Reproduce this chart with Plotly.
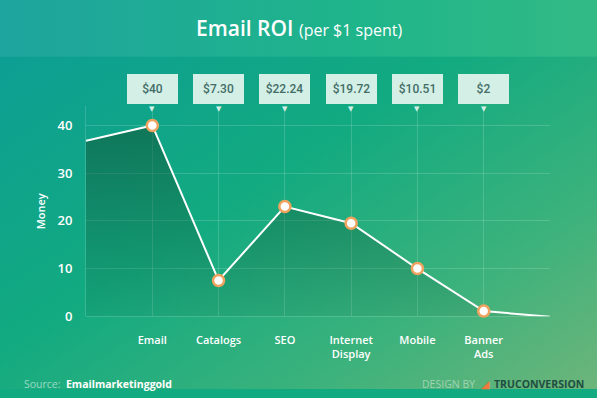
import base64
import plotly.graph_objects as go

# ---- data ----
categories = ["Email", "Catalogs", "SEO", "Internet<br>Display", "Mobile", "Banner<br>Ads"]
line_values = [40, 7.5, 23, 19.5, 10, 1.1]
lead_in_value = 36.8
lead_out_value = -0.1
callout_labels = ["$40", "$7.30", "$22.24", "$19.72", "$10.51", "$2"]
y_ticks = [0, 10, 20, 30, 40]

W, H = 597, 398

cat_x = list(range(len(categories)))
full_x = [-1] + cat_x + [len(categories)]
full_y = [lead_in_value] + line_values + [lead_out_value]

# ---- background gradient (SVG data URI) ----
svg = f"""<svg xmlns='http://www.w3.org/2000/svg' width='{W}' height='{H}' viewBox='0 0 {W} {H}' preserveAspectRatio='none'>
<defs>
<linearGradient id='g' x1='0' y1='0' x2='1' y2='1'>
<stop offset='0' stop-color='#0c9c97'/>
<stop offset='0.45' stop-color='#12aa80'/>
<stop offset='0.75' stop-color='#3bb27c'/>
<stop offset='1' stop-color='#6db57a'/>
</linearGradient>
<linearGradient id='h' x1='0' y1='0' x2='1' y2='0'>
<stop offset='0' stop-color='#1ea49e'/>
<stop offset='0.6' stop-color='#1fb58a'/>
<stop offset='1' stop-color='#32ba85'/>
</linearGradient>
</defs>
<rect width='{W}' height='{H}' fill='url(#g)'/>
<rect width='{W}' height='58' fill='url(#h)'/>
</svg>"""
bg_uri = "data:image/svg+xml;base64," + base64.b64encode(svg.encode()).decode()

# vertical placement helper (calibrated against the rendered output)
SY, OY = 0.9775, 0.65

def py(px):
    return 1 - ((px - OY) / SY) / H

def pxx(px):
    return px / W

fig = go.Figure()

# filled area under line
fig.add_trace(go.Scatter(
    x=full_x, y=full_y, mode="lines",
    line=dict(color="white", width=2),
    fill="tozeroy",
    fillgradient=dict(type="vertical",
                      colorscale=[[0, "rgba(20,90,60,0.10)"], [1, "rgba(15,85,55,0.58)"]]),
    hoverinfo="skip", showlegend=False, cliponaxis=False,
))

# markers
fig.add_trace(go.Scatter(
    x=cat_x, y=line_values, mode="markers",
    marker=dict(size=11, color="white", line=dict(color="#f0a35e", width=2.5)),
    showlegend=False, cliponaxis=False,
))

grid_col = "rgba(255,255,255,0.16)"

fig.update_layout(
    width=W, height=H, autosize=False,
    margin=dict(l=0, r=0, t=0, b=0),
    paper_bgcolor="#12aa80",
    plot_bgcolor="rgba(0,0,0,0)",
    images=[dict(source=bg_uri, xref="paper", yref="paper", x=0, y=1,
                 sizex=1, sizey=1, sizing="stretch", layer="below",
                 xanchor="left", yanchor="top")],
    xaxis=dict(
        domain=[pxx(86), pxx(550)],
        range=[-1, len(categories)],
        tickvals=cat_x, ticktext=categories,
        showgrid=True, gridcolor=grid_col, gridwidth=1,
        zeroline=False, showline=False,
        ticks="outside", ticklen=13, tickcolor="rgba(0,0,0,0)",
        tickfont=dict(family="Open Sans", size=11, color="white", weight=600),
    ),
    yaxis=dict(
        domain=[py(317), py(107)],
        range=[0, 44],
        tickvals=y_ticks,
        showgrid=True, gridcolor=grid_col, gridwidth=1,
        zeroline=True, zerolinecolor=grid_col, zerolinewidth=1,
        showline=True, linecolor=grid_col, linewidth=1,
        ticks="outside", ticklen=10, tickcolor="rgba(0,0,0,0)",
        tickfont=dict(family="Open Sans", size=13, color="white", weight=600),
        title=dict(text="Money", font=dict(family="Open Sans", size=11, color="white", weight=600),
                   standoff=9),
    ),
    showlegend=False,
)

annotations = []
# title
annotations.append(dict(
    xref="paper", yref="paper", x=0.5, y=py(29), xanchor="center", yanchor="middle",
    text="Email ROI <span style='font-size:16px;font-weight:400'>(per $1 spent)</span>",
    showarrow=False, font=dict(family="Open Sans", size=21, color="white", weight=600),
))
# callouts
for xi, lab in zip(cat_x, callout_labels):
    annotations.append(dict(
        xref="x", yref="paper", x=xi, y=py(90), xanchor="center", yanchor="middle",
        text=lab, showarrow=False, width=51, height=30,
        bgcolor="#d3efe6", borderpad=0, borderwidth=0,
        font=dict(family="Roboto", size=12, color="#436d66", weight=500),
    ))
    annotations.append(dict(
        xref="x", yref="paper", x=xi, y=py(103.5), xanchor="center", yanchor="top",
        text="▼", showarrow=False,
        font=dict(family="DejaVu Sans", size=7, color="#d3efe6"),
    ))
# footer
annotations.append(dict(
    xref="paper", yref="paper", x=pxx(22), y=py(385), xanchor="left", yanchor="middle",
    text="<span style='color:rgba(255,255,255,0.55)'>Source:</span>  <b>Emailmarketinggold</b>",
    showarrow=False, font=dict(family="Open Sans", size=10.5, color="white"),
))
annotations.append(dict(
    xref="paper", yref="paper", x=pxx(586), y=py(385), xanchor="right", yanchor="middle",
    text="<span style='color:rgba(255,255,255,0.45)'>DESIGN BY</span>  "
         "<span style='color:#f07a3a'>◢</span>  "
         "<b><span style='color:#1e4e40'>TRUCONVERSION</span></b>",
    showarrow=False, font=dict(family="Open Sans", size=10.5, color="white"),
))
fig.update_layout(annotations=annotations)

fig.write_html(
    "out.html",
    config={"displayModeBar": False, "responsive": False},
    post_script=("document.documentElement.style.margin='0px';"
                 "document.body.style.margin='0px';"
                 "document.documentElement.style.overflow='hidden';"
                 "document.body.style.overflow='hidden';"),
)
